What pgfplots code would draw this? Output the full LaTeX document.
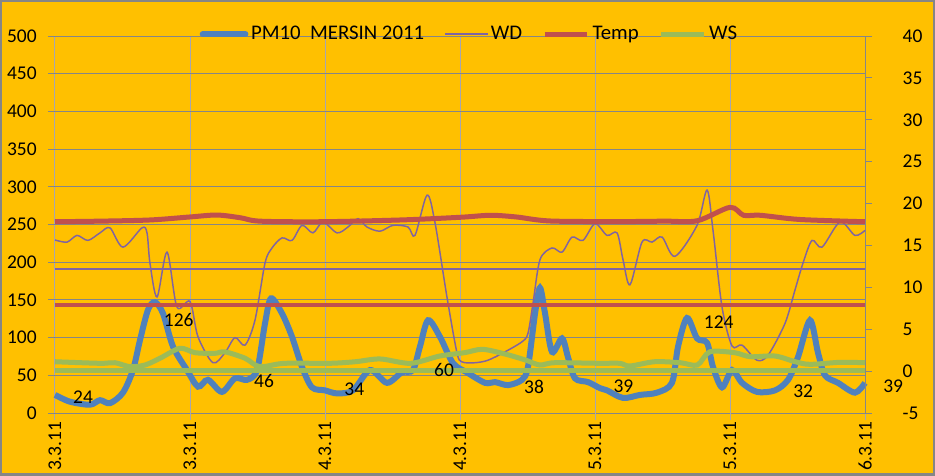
\documentclass[border=0pt]{standalone}
\usepackage{pgfplots}
\pgfplotsset{compat=1.18}
\usetikzlibrary{calc,backgrounds}
\usepackage{fontspec}
\setmainfont{Carlito}
\definecolor{bg}{HTML}{FFC000}
\definecolor{pmblue}{HTML}{4F81BD}
\definecolor{wdpurple}{HTML}{8064A2}
\definecolor{tred}{HTML}{C0504D}
\definecolor{wsgreen}{HTML}{9BBB59}
\definecolor{hgrid}{HTML}{868686}
\definecolor{vgrid}{HTML}{A6A6B0}
\newcommand{\cf}{\fontsize{14.6}{17}\selectfont}
\newcommand{\lf}{\fontsize{15.6}{18}\selectfont}
\pgfplotsset{
  base/.style={
    scale only axis,
    width=607.5pt, height=282.75pt,
    xmin=0, xmax=72,
    axis line style={draw=none},
    tick align=outside, major tick length=5.25pt,
    ticklabel style={font=\cf},
    /pgf/number format/assume math mode=true,
    clip=false,
  }
}
\begin{document}
\begin{tikzpicture}[x=0.75pt,y=0.75pt, show background rectangle,
  inner frame sep=0pt,
  background rectangle/.style={fill=bg, draw=hgrid, line width=3pt}]
\begin{axis}[base, name=ax1,
  ymin=0, ymax=500,
  xtick={0,12,...,72},
  xticklabels={3.3.11,3.3.11,4.3.11,4.3.11,5.3.11,5.3.11,6.3.11},
  ytick={0,50,...,500},
  xtick pos=bottom, ytick pos=left,
  x tick style={color=vgrid, line width=0.75pt},
  y tick style={color=hgrid, line width=0.75pt},
  xticklabel style={rotate=90, anchor=east, inner sep=1pt},
  yticklabel style={anchor=east, xshift=-5pt},
  xmajorgrids, ymajorgrids,
  major x grid style={color=vgrid, line width=0.75pt},
  major y grid style={color=hgrid, line width=0.75pt},
]
\coordinate (A0) at (rel axis cs:0,0);
\addplot[pmblue, line width=4.5pt, smooth, tension=0.5] coordinates {
(0,24) (1.33,15) (3.11,11) (4.0,17) (4.89,13) (6.04,27) (6.93,57) (7.56,97)
(8.27,137) (8.89,147) (9.6,132) (10.49,88) (11.73,57) (12.71,35) (13.6,44)
(14.84,28) (16.0,46) (17.07,44) (17.96,57) (18.67,119) (19.2,152) (20.18,132)
(21.07,101) (21.96,61) (22.84,34) (24.0,30) (25.07,26) (26.49,30) (28.0,57)
(29.51,40) (30.84,54) (31.82,57) (32.44,88) (33.16,123) (34.22,101) (35.38,66)
(36.6,54) (38.22,40) (39.11,41) (40.27,37) (41.51,44) (42.04,61) (42.67,132)
(43.11,166) (43.56,132) (44.18,81) (45.07,99) (45.6,74) (46.22,46) (47.38,41)
(48.44,33) (49.07,30) (50.49,20) (52.0,24) (53.51,27) (54.84,40) (55.38,88)
(56.18,126) (57.07,99) (57.96,93) (58.49,61) (59.29,34) (60.18,57) (61.07,40)
(62.4,28) (64.0,30) (65.16,44) (66.04,74) (67.11,123) (67.82,80) (68.44,50)
(69.6,40) (71.11,27) (72,40)
};
\end{axis}
\begin{axis}[base,
  ymin=-5, ymax=40,
  xtick=\empty,
  ytick={-5,0,...,40},
  ytick pos=right,
  y tick style={color=hgrid, line width=0.75pt},
  yticklabel style={anchor=west, xshift=19.5pt},
  legend columns=4,
  legend cell align=left,
  legend style={at={(0.512,1.005)}, anchor=center, draw=none, fill=none,
    font=\lf, inner sep=0pt,
    /tikz/every even column/.append style={column sep=13pt}},
  legend image code/.code={\draw[#1] (0pt,0pt) -- (32pt,0pt);},
]
\draw[hgrid, line width=0.75pt] (rel axis cs:1,0) -- (rel axis cs:1,1);
\addlegendimage{pmblue, line width=4.5pt, line cap=round}
\addlegendentry{PM10\ \ MERSIN 2011}
\addplot[wdpurple, line width=1.1pt, smooth, tension=0.5] coordinates {
(0,15.65) (1.07,15.4) (1.96,16.2) (2.93,15.6) (4.0,16.5) (4.89,17.1) (6.04,14.8)
(7.73,17.1) (8.18,16.5) (8.44,12.9) (9.07,8.85) (9.96,14.2) (10.84,7.65)
(12.0,8.3) (12.71,4.1) (14.04,1.0) (15.11,2.2) (16.0,4.0) (16.89,3.1) (17.78,6.1)
(18.67,12.9) (19.29,14.7) (20.18,15.9) (21.07,15.6) (21.96,17.4) (22.93,16.5)
(23.82,17.8) (25.07,16.5) (26.04,17.2) (26.93,18.2) (27.73,17.2) (28.89,16.7)
(30.04,17.4) (31.38,17.2) (32.0,16.2) (33.07,21.0) (33.78,17.7) (34.84,8.85)
(35.73,2.2) (36.18,1.1) (37.33,1.0) (38.49,1.3) (40.0,2.3) (41.51,3.5) (42.04,4.5)
(42.49,8.1) (43.11,13.3) (44.18,14.7) (45.07,14.2) (45.96,16.0) (46.93,15.6)
(48.0,17.6) (49.07,16.2) (49.96,16.5) (50.49,13.3) (51.11,10.3) (52.18,15.4)
(53.07,15.4) (53.96,16.0) (55.11,13.7) (57.07,17.4) (57.96,21.6) (58.49,16.8)
(59.29,7.65) (60.18,3.0) (61.07,3.1) (62.4,1.3) (63.38,1.9) (64.89,5.7)
(65.78,9.7) (66.49,12.9) (67.29,15.6) (68.18,14.8) (69.78,17.8) (71.11,16.2)
(72,16.8)
};
\addlegendentry{WD}
\addplot[tred, line width=3.75pt, smooth, tension=0.5] coordinates {
(0,17.83) (4,17.9) (8.44,18.04) (12.0,18.4) (14.4,18.63) (16.5,18.3) (18.2,17.9)
(23.6,17.83) (30.7,18.04) (36,18.36) (38.7,18.6) (41,18.4) (44,17.92) (50.2,17.85)
(54.2,17.9) (57.1,17.95) (60,19.55) (61.2,18.6) (62.7,18.6) (66.2,18.1) (72,17.83)
};
\addlegendentry{Temp}
\addplot[wsgreen, line width=3.75pt, smooth, tension=0.5] coordinates {
(0,1.12) (4.0,0.93) (5.33,1.0) (6.67,0.53) (8.0,0.73) (9.33,1.53) (11.1,2.72)
(12.44,2.2) (14.2,2.12) (15.1,2.3) (16.9,1.53) (18.2,0.53) (20.4,0.93) (24.4,0.93)
(26.7,1.12) (28.9,1.45) (31.6,0.93) (34.2,1.8) (36.4,2.2) (38.0,2.6) (40.0,2.04)
(41.8,1.33) (43.1,0.73) (44.4,1.0) (48.4,0.93) (50.2,0.93) (51.1,0.61) (53.3,1.12)
(55.6,1.0) (57.1,0.73) (58.2,2.3) (60.4,2.2) (61.8,1.72) (64.0,1.8) (65.8,1.12)
(67.1,0.81) (69.8,1.05) (72,1.0)
};
\addlegendentry{WS}
\addplot[wdpurple, line width=1.5pt, forget plot] coordinates {(0,12.19) (72,12.19)};
\addplot[tred, line width=3pt, forget plot] coordinates {(0,7.89) (72,7.89)};
\addplot[wsgreen, line width=3.75pt, forget plot] coordinates {(0,0.13) (72,0.13)};
\begin{scope}[every node/.style={font=\cf, inner sep=0pt, anchor=center}]
\node at (axis cs:2.49,-3.11) {24};
\node at (axis cs:11.0,6.07) {126};
\node at (axis cs:18.58,-1.22) {46};
\node at (axis cs:26.6,-2.21) {34};
\node at (axis cs:34.58,0.13) {60};
\node at (axis cs:42.58,-1.85) {38};
\node at (axis cs:50.53,-1.76) {39};
\node at (axis cs:59.0,5.89) {124};
\node at (axis cs:66.5,-2.39) {32};
\node at (axis cs:74.5,-1.76) {39};
\end{scope}
\end{axis}
\pgfresetboundingbox
\useasboundingbox ($(A0)+(-55,-62)$) rectangle ++(935,475);
\end{tikzpicture}
\end{document}
